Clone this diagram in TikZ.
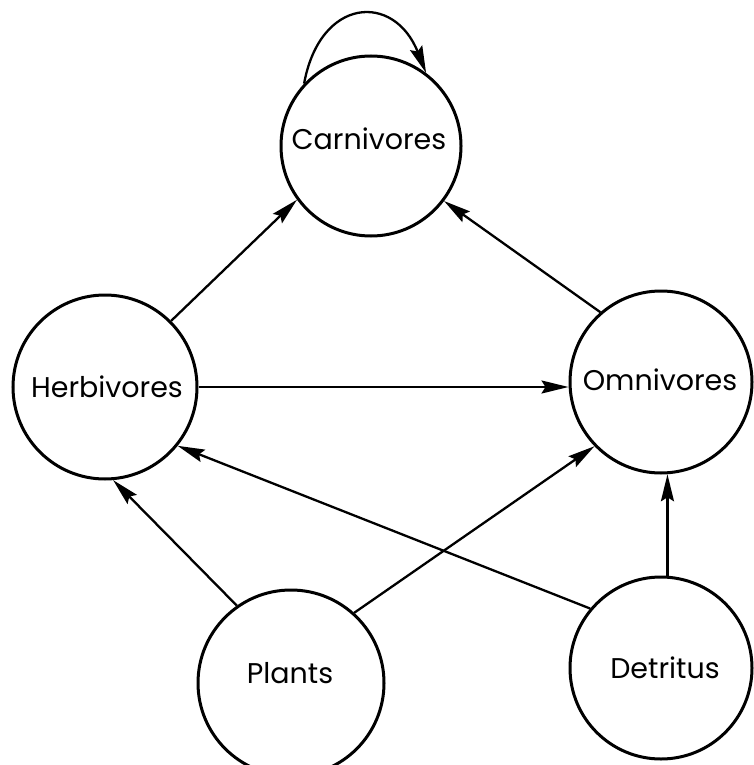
\documentclass[tikz,border=0pt]{standalone}
\usepackage{fontspec}
\setmainfont{Poppins}
\usetikzlibrary{arrows.meta}
\begin{document}
\begin{tikzpicture}[x=1pt,y=-1pt,
  bubble/.style={circle,draw,line width=3pt,inner sep=0pt},
  lbl/.style={font=\fontsize{28.5}{34}\selectfont,inner sep=0pt},
  arr/.style={line width=2.3pt,-{Stealth[length=27pt,width=13pt,inset=4pt]}}]
\useasboundingbox (0,0) rectangle (754,765);
% circles
\node[bubble,minimum size=180pt] (carn) at (371,146) {};
\node[bubble,minimum size=184pt] (herb) at (105,387) {};
\node[bubble,minimum size=182pt] (omni) at (661,382) {};
\node[bubble,minimum size=186pt] (plants) at (291,683) {};
\node[bubble,minimum size=182pt] (detr) at (661,668) {};
% labels
\node[lbl] (carnT) at (369,139) {Carnivores};
\node[lbl] (herbT) at (107,387) {Herbivores};
\node[lbl] (omniT) at (660,380) {Omnivores};
\node[lbl] (plantsT) at (290,673) {Plants};
\node[lbl] (detrT) at (665,668) {Detritus};
% connectors
\draw[arr] (herb.45) -- (carn.-144);
\draw[arr] (omni.131.5) -- (carn.-37.7);
\draw[arr] (herb.east) -- (herb.east -| omni.west);
\draw[arr] (plants.125.8) -- (herb.-85);
\draw[arr] (plants.48) -- (omni.224.6);
\draw[arr] (detr.140.7) -- (herb.-39.4);
\draw[arr] (detr.86) -- (omni.-86);
\draw[arr] (carn.137) .. controls (320,-3) and (394,-8) .. (carn.53);
\end{tikzpicture}
\end{document}
